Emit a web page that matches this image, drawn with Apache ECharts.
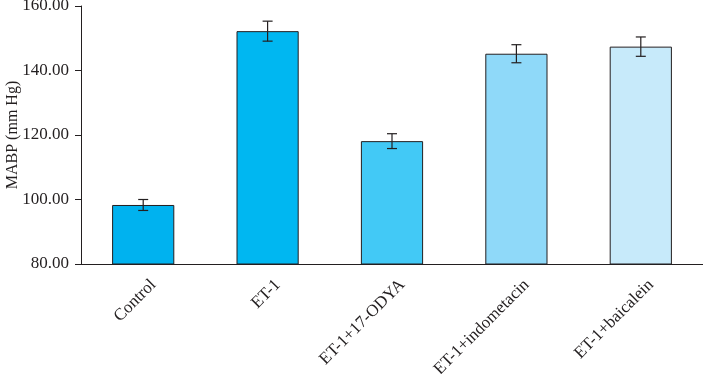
<!DOCTYPE html>
<html><head><meta charset="utf-8">
<script src="https://cdn.jsdelivr.net/npm/echarts@6/dist/echarts.min.js"></script>
<style>html,body{margin:0;padding:0;background:#fff}#c{width:703px;height:374px}</style>
</head><body><div id="c"></div>
<script>
var categories = ['Control', 'ET-1', 'ET-1+17-ODYA', 'ET-1+indometacin', 'ET-1+baicalein'];
var means = [98.3, 152.2, 118.1, 145.2, 147.4];
var errors = [1.7, 3.1, 2.3, 2.8, 3.0];
var colors = ['#00b2ef', '#00b7f1', '#42c9f6', '#8fd9f9', '#c7eafa'];
var yTicks = [80, 100, 120, 140, 160];

var font = '"Liberation Serif", "DejaVu Serif", serif';
var chart = echarts.init(document.getElementById('c'));
chart.setOption({
  animation: false,
  grid: { left: 81, right: 0, top: 6, bottom: 110, containLabel: false, outerBoundsMode: 'none' },
  xAxis: {
    type: 'category', data: categories,
    axisLine: { lineStyle: { color: '#231f20', width: 1 } },
    axisTick: { alignWithLabel: false, length: 7, lineStyle: { color: '#231f20' } },
    axisLabel: { rotate: 45, margin: 8, padding: [6, 0, 0, 0], verticalAlign: 'top', fontFamily: font, fontSize: 17, color: '#231f20', interval: 0, hideOverlap: false }
  },
  yAxis: {
    type: 'value', min: yTicks[0], max: yTicks[yTicks.length - 1], interval: 20,
    name: 'MABP (mm Hg)', nameLocation: 'middle', nameGap: 60, nameMoveOverlap: false,
    nameTextStyle: { fontFamily: font, fontSize: 16, color: '#231f20' },
    axisLine: { show: true, lineStyle: { color: '#231f20', width: 1 } },
    axisTick: { show: true, length: 6, lineStyle: { color: '#231f20' } },
    splitLine: { show: false },
    axisLabel: { fontFamily: font, fontSize: 17, color: '#231f20', margin: 12,
      formatter: function (v) { return v.toFixed(2); } }
  },
  series: [{
    type: 'bar', barWidth: '50%',
    data: means.map(function (v, i) {
      return { value: v, itemStyle: { color: colors[i], borderColor: '#231f20', borderWidth: 1 } };
    })
  }, {
    type: 'custom',
    data: means.map(function (v, i) { return [i, v - errors[i], v + errors[i]]; }),
    renderItem: function (params, api) {
      var lo = api.coord([api.value(0), api.value(1)]);
      var hi = api.coord([api.value(0), api.value(2)]);
      var hw = 5;
      var st = { stroke: '#231f20', lineWidth: 1.2 };
      return { type: 'group', children: [
        { type: 'line', shape: { x1: hi[0], y1: hi[1], x2: lo[0], y2: lo[1] }, style: st },
        { type: 'line', shape: { x1: hi[0] - hw, y1: hi[1], x2: hi[0] + hw, y2: hi[1] }, style: st },
        { type: 'line', shape: { x1: lo[0] - hw, y1: lo[1], x2: lo[0] + hw, y2: lo[1] }, style: st }
      ]};
    },
    z: 10
  }]
});
</script></body></html>
